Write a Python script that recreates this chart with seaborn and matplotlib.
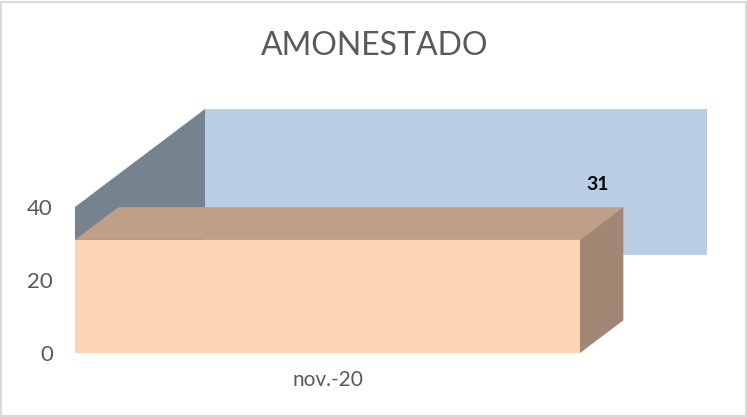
import matplotlib
matplotlib.use("Agg")
import matplotlib.pyplot as plt
import seaborn as sns
from matplotlib.patches import Polygon, Rectangle

# data
months = ["nov.-20"]
values = [31]
title = "AMONESTADO"
yticks = [0, 20, 40]

sns.set_theme(style="white")
plt.rcParams["font.family"] = ["Lato", "DejaVu Sans"]

fig = plt.figure(figsize=(7.47, 4.17), dpi=100)
ax = fig.add_axes([75 / 747, 1 - 353 / 417, 632 / 747, 246 / 417])

front = "#FCD5B5"
top_c = "#BF9F87"
side_c = "#A18774"
wall_back = "#B9CDE5"
wall_side = "#76838F"

sns.barplot(x=months, y=values, color=front, saturation=1, width=0.8,
            linewidth=0, ax=ax, zorder=3)

# axis scaling: 505 px for bar width, 3.65 px per unit
sx = 0.8 / 505
ax.set_xlim(-0.4, -0.4 + 632 * sx)
ax.set_ylim(0, 246 / 3.65)
ax.set_yticks(yticks)
ax.set_yticklabels([str(t) for t in yticks])

bar = ax.patches[0]
x0 = bar.get_x()
x1 = x0 + bar.get_width()
v = bar.get_height()

# depth of walls and bar (oblique projection)
wdx, wdy = 130 * sx, 98 / 3.65
bdx, bdy = wdx / 3, wdy / 3
ymax = yticks[-1]

ax.add_patch(Rectangle((x0 + wdx, wdy), x1 - x0, ymax, color=wall_back,
                       lw=0, zorder=1))
ax.add_patch(Polygon([(x0, 0), (x0, ymax), (x0 + wdx, ymax + wdy), (x0 + wdx, wdy)],
                     closed=True, color=wall_side, lw=0, zorder=1))
ax.add_patch(Polygon([(x0, v), (x1, v), (x1 + bdx, v + bdy), (x0 + bdx, v + bdy)],
                     closed=True, color=top_c, lw=0, zorder=4))
ax.add_patch(Polygon([(x1, 0), (x1, v), (x1 + bdx, v + bdy), (x1 + bdx, bdy)],
                     closed=True, color=side_c, lw=0, zorder=4))

ax.annotate(str(values[0]), xy=(x1, v + bdy), xytext=(13, 16),
            textcoords="offset points", ha="center", va="center",
            fontsize=14, fontweight="bold", color="black", zorder=5)

for s in ax.spines.values():
    s.set_visible(False)
ax.patch.set_alpha(0)
ax.tick_params(axis="y", length=0, pad=16, labelsize=16, labelcolor="#595959")
ax.tick_params(axis="x", length=0, pad=12, labelsize=15, labelcolor="#595959")
ax.set_xlabel("")
ax.set_ylabel("")

fig.text(0.502, 1 - 46 / 417, title, ha="center", va="center",
         fontsize=23, color="#595959")

fig.patches.append(Rectangle((0.002, 0.002), 0.996, 0.994, transform=fig.transFigure,
                             fill=False, edgecolor="#D9D9D9", lw=1.5))

fig.savefig("out.png", dpi=100)
